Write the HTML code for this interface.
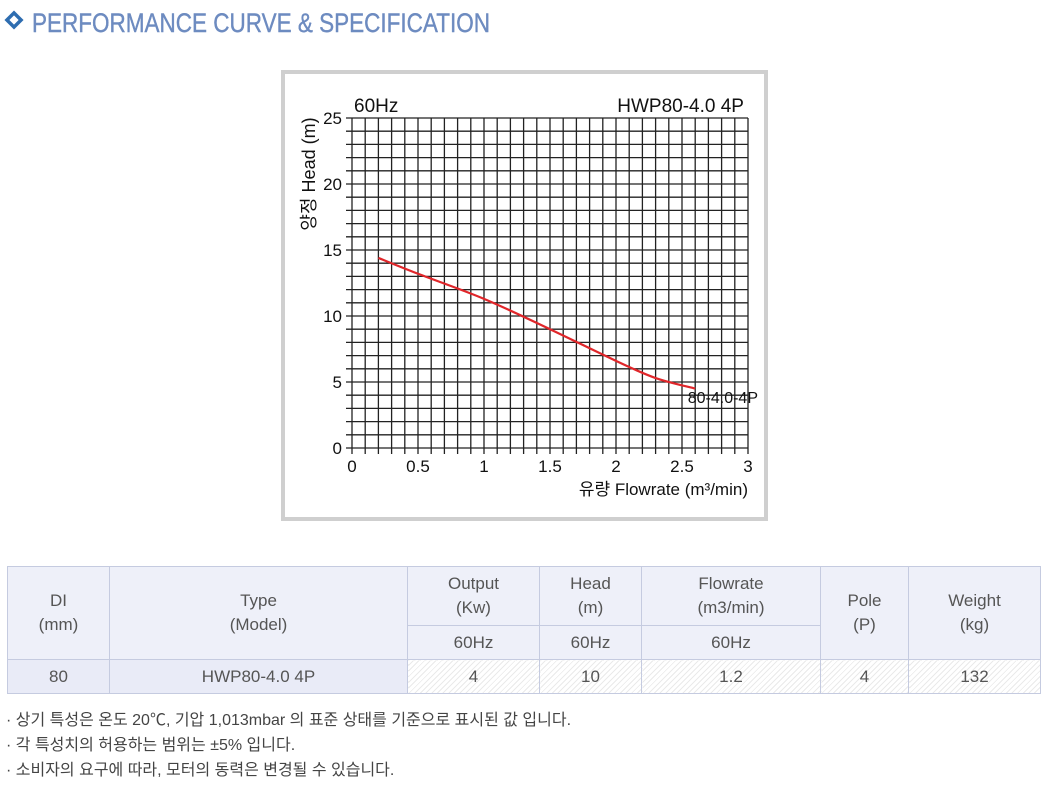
<!DOCTYPE html>
<html><head><meta charset="utf-8">
<style>
body{margin:0;width:1047px;height:808px;background:#fff;overflow:hidden;font-family:"Liberation Sans","Noto Sans CJK KR",sans-serif;position:relative}
.abs{position:absolute}
table{border-collapse:collapse;position:absolute;left:7px;top:566px;width:1033px;table-layout:fixed}
td{border:1px solid #c5cbe0;text-align:center;color:#555;font-size:17px;padding:0;line-height:24px}
.h{background:#eef0f9}
.hatch{background:repeating-linear-gradient(135deg,#fff 0 3px,#eaeaea 3px 4px)}
.notes{left:6px;top:708px;font-size:16px;color:#444;line-height:25px}
</style></head><body>
<svg class="abs" style="left:0;top:0" width="520" height="45">
<rect x="9" y="15" width="10" height="10" transform="rotate(45 14 20)" fill="none" stroke="#2e6db0" stroke-width="3.5"/>
<text x="32" y="32" font-size="27" fill="#6d8bc0" stroke="#6d8bc0" stroke-width="0.4" textLength="458" lengthAdjust="spacingAndGlyphs" font-family="Liberation Sans">PERFORMANCE CURVE &amp; SPECIFICATION</text>
</svg>
<svg id="chart" class="abs" style="left:0;top:0" width="1047" height="560"></svg>
<table>
<colgroup><col style="width:102px"><col style="width:298px"><col style="width:132px"><col style="width:102px"><col style="width:179px"><col style="width:88px"><col style="width:132px"></colgroup>
<tr style="height:59px"><td class="h" rowspan="2">DI<br>(mm)</td><td class="h" rowspan="2">Type<br>(Model)</td><td class="h">Output<br>(Kw)</td><td class="h">Head<br>(m)</td><td class="h">Flowrate<br>(m3/min)</td><td class="h" rowspan="2">Pole<br>(P)</td><td class="h" rowspan="2">Weight<br>(kg)</td></tr>
<tr style="height:34px"><td class="h">60Hz</td><td class="h">60Hz</td><td class="h">60Hz</td></tr>
<tr style="height:34px"><td class="h" style="background:#e9ebf7">80</td><td style="background:#e9ebf7">HWP80-4.0 4P</td><td class="hatch">4</td><td class="hatch">10</td><td class="hatch">1.2</td><td class="hatch">4</td><td class="hatch">132</td></tr>
</table>
<div class="abs notes">· 상기 특성은 온도 20℃, 기압 1,013mbar 의 표준 상태를 기준으로 표시된 값 입니다.<br>· 각 특성치의 허용하는 범위는 ±5% 입니다.<br>· 소비자의 요구에 따라, 모터의 동력은 변경될 수 있습니다.</div>
<script>
const flowX=[0.2,0.5,1.0,1.5,2.0,2.3,2.6];
const headY=[14.4,13.2,11.3,9.0,6.6,5.3,4.5];
const xTicks=[0,0.5,1,1.5,2,2.5,3];
const yTicks=[0,5,10,15,20,25];
const xTickLabels=["0","0.5","1","1.5","2","2.5","3"];
const NS="http://www.w3.org/2000/svg";
const svg=document.getElementById('chart');
const X0=352,X1=748,Y0=448,Y1=118;
const sx=v=>X0+(X1-X0)*v/3, sy=v=>Y0-(Y0-Y1)*v/25;
function mk(t,a,p){const e=document.createElementNS(NS,t);for(const k in a)e.setAttribute(k,a[k]);(p||svg).appendChild(e);return e;}
const frame=mk('rect',{x:283,y:72,width:483,height:447,fill:'#fff',stroke:'#cfcfcf','stroke-width':4});


const g=mk('g',{stroke:'#222','stroke-width':1.3});


for(let i=0;i<=30;i++){mk('line',{x1:sx(i/10),x2:sx(i/10),y1:Y1,y2:Y0+6},g);}
for(let i=0;i<=25;i++){mk('line',{x1:X0-6,x2:X1,y1:sy(i),y2:sy(i)},g);}
const tf='font-family:"Liberation Sans","Noto Sans CJK KR",sans-serif';
xTicks.forEach((v,i)=>{const t=mk('text',{x:sx(v),y:472,'text-anchor':'middle','font-size':17,fill:'#111',style:tf});t.textContent=xTickLabels[i];

});
yTicks.forEach(v=>{const t=mk('text',{x:342,y:sy(v)+6,'text-anchor':'end','font-size':17,fill:'#111',style:tf});t.textContent=v;

});
const P=flowX.map((v,i)=>[sx(v),sy(headY[i])]);
let d='M'+P[0][0]+','+P[0][1];
for(let i=0;i<P.length-1;i++){const p0=P[Math.max(0,i-1)],p1=P[i],p2=P[i+1],p3=P[Math.min(P.length-1,i+2)];
d+=' C'+(p1[0]+(p2[0]-p0[0])/6)+','+(p1[1]+(p2[1]-p0[1])/6)+' '+(p2[0]-(p3[0]-p1[0])/6)+','+(p2[1]-(p3[1]-p1[1])/6)+' '+p2[0]+','+p2[1];}
const c=mk('path',{d:d,fill:'none',stroke:'#e0262a','stroke-width':2.2});


function txt(s,a,name){const t=mk('text',Object.assign({fill:'#111',style:tf},a));t.textContent=s;

return t;}
txt('60Hz',{x:354,y:112,'font-size':19},'frequency-label');
txt('HWP80-4.0 4P',{x:744,y:112,'font-size':19,'text-anchor':'end'},'model-label');
txt('80-4.0-4P',{x:758,y:403,'font-size':16,'text-anchor':'end'},'series-label');
txt('유량 Flowrate (m³/min)',{x:748,y:495,'font-size':17,'text-anchor':'end'},'x-axis-title');
txt('양정 Head (m)',{x:0,y:0,'font-size':18,'text-anchor':'middle',transform:'translate(315,174) rotate(-90)'},'y-axis-title');
</script>
</body></html>
